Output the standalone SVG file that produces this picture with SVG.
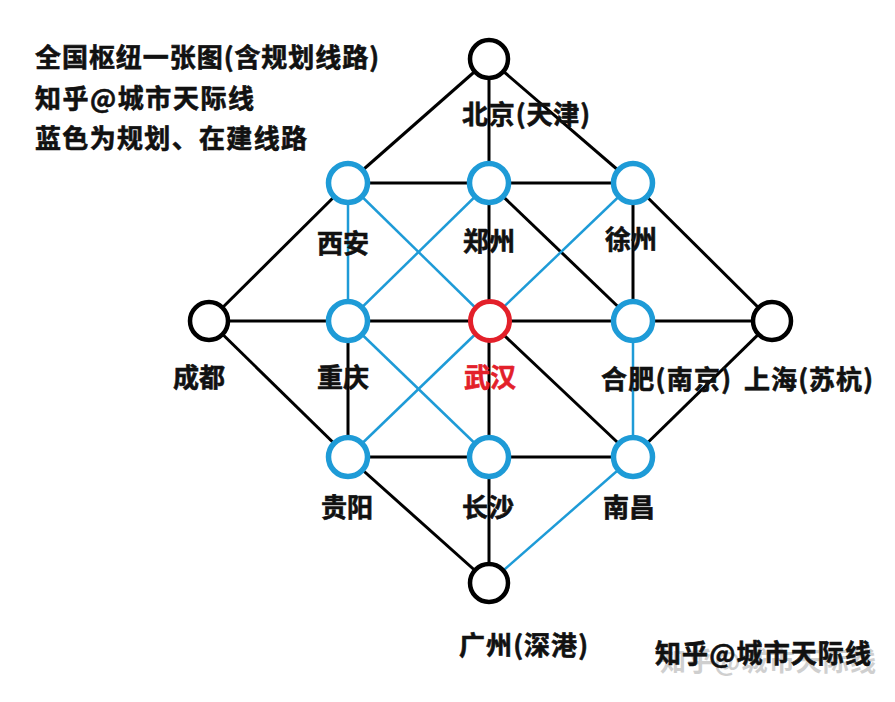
<svg xmlns="http://www.w3.org/2000/svg" width="895" height="702" viewBox="0 0 895 702">
<style>
text{font-family:"Noto Sans CJK SC","Noto Sans",sans-serif;font-weight:bold;font-size:26px;fill:#111;stroke:#111;stroke-width:0.6}
.b{stroke:#000;stroke-width:3;fill:none}
.u{stroke:#1e9bd7;stroke-width:2.5;fill:none}
.nk{fill:#fff;stroke:#000;stroke-width:4.5}
.nb{fill:#fff;stroke:#1e9bd7;stroke-width:5.5}
.nr{fill:#fff;stroke:#e3202a;stroke-width:5}
.m{text-anchor:middle}
</style>
<rect width="895" height="702" fill="#fff"/>
<g id="connectors">
<line class="b" x1="489" y1="59" x2="348" y2="183"/>
<line class="b" x1="489" y1="59" x2="489" y2="183"/>
<line class="b" x1="489" y1="59" x2="633" y2="183"/>
<line class="b" x1="348" y1="183" x2="633" y2="183"/>
<line class="b" x1="209" y1="321" x2="348" y2="183"/>
<line class="b" x1="633" y1="183" x2="772" y2="321"/>
<line class="b" x1="489" y1="183" x2="633" y2="321"/>
<line class="b" x1="489" y1="183" x2="489" y2="321"/>
<line class="b" x1="633" y1="183" x2="633" y2="321"/>
<line class="b" x1="209" y1="321" x2="772" y2="321"/>
<line class="b" x1="348" y1="321" x2="348" y2="457"/>
<line class="b" x1="489" y1="321" x2="489" y2="457"/>
<line class="b" x1="489" y1="321" x2="633" y2="457"/>
<line class="b" x1="209" y1="321" x2="348" y2="457"/>
<line class="b" x1="772" y1="321" x2="633" y2="457"/>
<line class="b" x1="348" y1="457" x2="633" y2="457"/>
<line class="b" x1="348" y1="457" x2="489" y2="583"/>
<line class="b" x1="489" y1="457" x2="489" y2="583"/>
<line class="u" x1="348" y1="183" x2="348" y2="321"/>
<line class="u" x1="348" y1="183" x2="489" y2="321"/>
<line class="u" x1="489" y1="183" x2="348" y2="321"/>
<line class="u" x1="633" y1="183" x2="489" y2="321"/>
<line class="u" x1="348" y1="321" x2="489" y2="457"/>
<line class="u" x1="489" y1="321" x2="348" y2="457"/>
<line class="u" x1="633" y1="321" x2="633" y2="457"/>
<line class="u" x1="633" y1="457" x2="489" y2="583"/>
</g>
<g id="n-beijing"><circle class="nk" cx="489" cy="59" r="19"/><text x="462" y="124" textLength="128">北京(天津)</text></g>
<g id="n-xian"><circle class="nb" cx="348" cy="183" r="19.5"/><text class="m" x="343" y="253">西安</text></g>
<g id="n-zhengzhou"><circle class="nb" cx="489" cy="183" r="19.5"/><text class="m" x="489" y="251">郑州</text></g>
<g id="n-xuzhou"><circle class="nb" cx="633" cy="183" r="19.5"/><text class="m" x="631" y="249">徐州</text></g>
<g id="n-chengdu"><circle class="nk" cx="209" cy="321" r="19"/><text class="m" x="199" y="387">成都</text></g>
<g id="n-chongqing"><circle class="nb" cx="348" cy="321" r="19.5"/><text class="m" x="343" y="387">重庆</text></g>
<g id="n-wuhan"><circle class="nr" cx="490" cy="321" r="19.5"/><text class="m" x="490" y="387" style="fill:#e3202a;stroke:#e3202a">武汉</text></g>
<g id="n-hefei"><circle class="nb" cx="633" cy="321" r="19.5"/><text x="601" y="389" textLength="130">合肥(南京)</text></g>
<g id="n-shanghai"><circle class="nk" cx="772" cy="321" r="19"/><text x="744" y="389" textLength="129">上海(苏杭)</text></g>
<g id="n-guiyang"><circle class="nb" cx="348" cy="457" r="19.5"/><text class="m" x="347" y="517">贵阳</text></g>
<g id="n-changsha"><circle class="nb" cx="489" cy="457" r="19.5"/><text class="m" x="488" y="517">长沙</text></g>
<g id="n-nanchang"><circle class="nb" cx="633" cy="457" r="19.5"/><text class="m" x="629" y="517">南昌</text></g>
<g id="n-guangzhou"><circle class="nk" cx="489" cy="583" r="19"/><text x="459" y="655" textLength="129">广州(深港)</text></g>
<g id="legend">
<text x="35" y="67" textLength="344">全国枢纽一张图(含规划线路)</text>
<text x="35" y="108" textLength="219">知乎@城市天际线</text>
<text x="35" y="148" textLength="272">蓝色为规划、在建线路</text>
</g>
<g id="watermark">
<text x="660" y="671" textLength="216" style="fill:#cfcfcf;stroke:none">知乎@城市天际线</text>
<text x="655" y="663" textLength="216">知乎@城市天际线</text>
</g>
</svg>
